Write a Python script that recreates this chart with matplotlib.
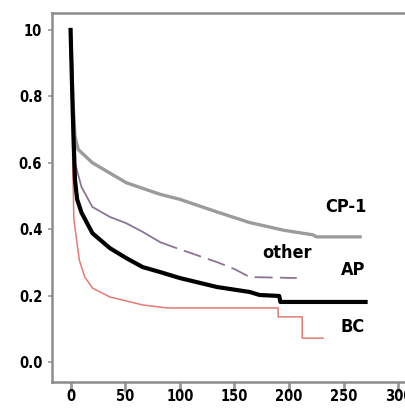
import matplotlib
matplotlib.use("Agg")
import matplotlib.pyplot as plt
from matplotlib import font_manager

# survival curves (time, survival); repeated times are drops
cp1_t = [0, 2, 4, 7, 20, 51, 82, 100, 134, 164, 195, 222, 225, 265]
cp1_s = [1.0, 0.80, 0.68, 0.64, 0.60, 0.54, 0.505, 0.49, 0.452, 0.42, 0.397, 0.383, 0.377, 0.377]

ap_t = [0, 2, 4, 6, 10, 20, 36, 51, 66, 82, 100, 134, 164, 173, 191, 192, 270]
ap_s = [1.0, 0.75, 0.55, 0.49, 0.45, 0.388, 0.343, 0.313, 0.286, 0.271, 0.253, 0.226, 0.211, 0.202, 0.199, 0.181, 0.181]

other_t = [0, 2, 4, 10, 20, 36, 51, 66, 82, 97, 134, 150, 164, 207]
other_s = [1.0, 0.75, 0.60, 0.527, 0.467, 0.437, 0.418, 0.392, 0.361, 0.343, 0.301, 0.28, 0.256, 0.253]

bc_t = [0, 1, 2, 3, 8, 13, 20, 36, 66, 88, 190, 190, 212, 212, 231]
bc_s = [1.0, 0.80, 0.60, 0.43, 0.307, 0.256, 0.223, 0.196, 0.172, 0.163, 0.163, 0.136, 0.136, 0.072, 0.072]

labels = ["CP-1", "other", "AP", "BC"]
label_pos = [(252, 0.467), (198, 0.328), (259, 0.277), (258, 0.105)]

x_ticks = [0, 50, 100, 150, 200, 250, 300]
y_ticks = [0.0, 0.2, 0.4, 0.6, 0.8, 1.0]
y_ticklabels = ["0.0", "0.2", "0.4", "0.6", "0.8", "10"]

names = {f.name for f in font_manager.fontManager.ttflist}
FONT = "Liberation Sans Narrow" if "Liberation Sans Narrow" in names else "DejaVu Sans"
fp = dict(family=FONT, weight="bold", stretch="condensed")

fig = plt.figure(figsize=(4.06, 4.09), dpi=100)
ax = fig.add_axes([52 / 406, 1 - 382 / 409, 1 - 52 / 406, 369 / 409])

ax.plot(cp1_t, cp1_s, color="#9b9b9b", lw=2.4)
# "other" is solid at first, then broken up
ax.plot(other_t[:9], other_s[:9], color="#8c7496", lw=1.3)
ax.plot(other_t[8:], other_s[8:], color="#8c7496", lw=1.3, dashes=(10, 4))
ax.plot(bc_t, bc_s, color="#e27b74", lw=1.1)
ax.plot(ap_t, ap_s, color="black", lw=3.0)

for txt, (x, y) in zip(labels, label_pos):
    ax.text(x, y, txt, ha="center", va="center", fontsize=13, **fp)

ax.set_xlim(-17, 307)
ax.set_ylim(-0.06, 1.051)
ax.set_xticks(x_ticks)
ax.set_yticks(y_ticks)
ax.set_yticklabels(y_ticklabels)

for lab in ax.get_xticklabels() + ax.get_yticklabels():
    lab.set_family(FONT)
    lab.set_fontweight("bold")
    lab.set_fontstretch("condensed")
    lab.set_fontsize(10.5)

ax.tick_params(axis="x", length=7, width=2, color="#999999", pad=-2)
ax.tick_params(axis="y", length=3, width=1.2, color="#999999", pad=4)

for side in ["left", "top", "bottom"]:
    ax.spines[side].set_color("#8c8c8c")
    ax.spines[side].set_linewidth(1.8)
ax.spines["right"].set_visible(False)

fig.savefig("out.png", dpi=100)
